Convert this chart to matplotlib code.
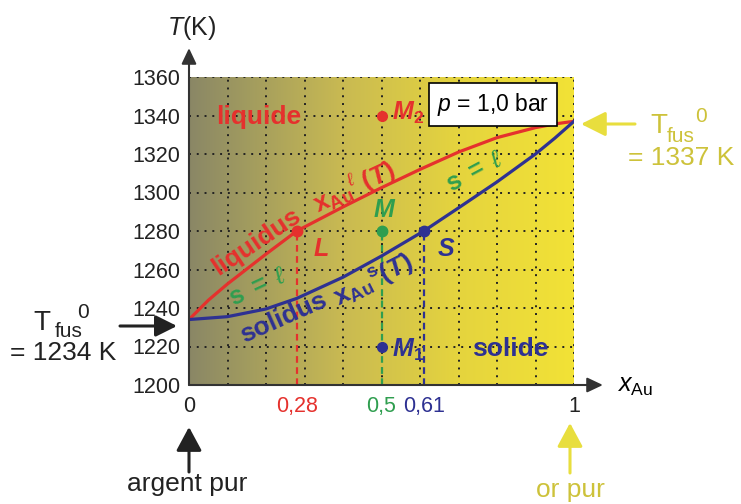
import numpy as np
import matplotlib
matplotlib.use('Agg')
import matplotlib.pyplot as plt
from matplotlib.colors import LinearSegmentedColormap

plt.rcParams['font.family'] = ['Liberation Sans', 'DejaVu Sans']
plt.rcParams['mathtext.fontset'] = 'custom'
plt.rcParams['mathtext.rm'] = 'Liberation Sans'
plt.rcParams['mathtext.it'] = 'Liberation Sans:italic'
plt.rcParams['mathtext.bf'] = 'Liberation Sans:bold'
plt.rcParams['mathtext.bfit'] = 'Liberation Sans:bold:italic'
plt.rcParams['mathtext.fallback'] = 'stixsans'

# ---------------- data ----------------
liq_x = [0.0, 0.05, 0.1, 0.2, 0.28, 0.4, 0.5, 0.6, 0.7, 0.8, 0.9, 0.95, 1.0]
liq_T = [1234, 1244, 1252.5, 1268, 1280, 1292.5, 1302.5, 1312, 1321, 1328.5, 1333.7, 1335.6, 1337]
sol_x = [0.0, 0.1, 0.2, 0.28, 0.4, 0.5, 0.61, 0.7, 0.8, 0.9, 0.95, 1.0]
sol_T = [1234, 1235.5, 1239.5, 1245, 1256, 1267, 1280, 1292, 1305.5, 1320, 1328.2, 1337]
T_fus_Ag = 1234
T_fus_Au = 1337
T_iso = 1280
x_L, x_M, x_S = 0.28, 0.5, 0.61
T_M1, T_M2 = 1220, 1340
y_ticks = [1200, 1220, 1240, 1260, 1280, 1300, 1320, 1340, 1360]
x_ticks = [0, 0.28, 0.5, 0.61, 1]
x_tick_labels = ['0', '0,28', '0,5', '0,61', '1']
grid_x = [0.1, 0.2, 0.3, 0.4, 0.5, 0.6, 0.7, 0.8, 0.9, 1.0]
grid_T = [1220, 1240, 1260, 1280, 1300, 1320, 1340, 1360]

RED = '#e5312d'
NAVY = '#2e3192'
GREEN = '#2f9e4f'
YEL_TXT = '#cdc23a'
YEL_ARR = '#e8de3e'
DARK = '#222222'

W, H = 741, 504
fig = plt.figure(figsize=(W / 100, H / 100), dpi=100)
ax = fig.add_axes([189 / W, 119 / H, 385 / W, 308 / H])
ax.set_xlim(0, 1)
ax.set_ylim(1200, 1360)

# background gradient
cmap = LinearSegmentedColormap.from_list(
    'bg', [(0, '#8a8766'), (0.15, '#a19b5f'), (0.4, '#c9ba52'),
           (0.7, '#e5d43e'), (1, '#f2e236')])
grad = np.linspace(0, 1, 256).reshape(1, -1)
ax.imshow(grad, extent=[0, 1, 1200, 1360], aspect='auto', cmap=cmap,
          zorder=0, interpolation='bilinear')

# dotted grid
ax.vlines(grid_x, 1200, 1360, colors=DARK, linestyles=(0, (1, 3)), lw=1.4, zorder=1)
ax.hlines(grid_T, 0, 1, colors=DARK, linestyles=(0, (1, 3)), lw=1.4, zorder=1)

for s in ax.spines.values():
    s.set_visible(False)
ax.set_yticks(y_ticks)
ax.set_yticklabels([str(t) for t in y_ticks], fontsize=15.5, color=DARK)
ax.set_xticks(x_ticks)
ax.set_xticklabels(x_tick_labels, fontsize=15.5)
for lab, c in zip(ax.get_xticklabels(), [DARK, RED, GREEN, NAVY, DARK]):
    lab.set_color(c)
ax.tick_params(axis='y', length=0, pad=6)
ax.tick_params(axis='x', length=0, pad=8)

# axes arrows
ax.annotate('', xy=(0, 1375), xytext=(0, 1200), xycoords='data', annotation_clip=False,
            arrowprops=dict(arrowstyle='-|>,head_length=0.95,head_width=0.45',
                            mutation_scale=10, lw=1.5, color='#333333',
                            shrinkA=0, shrinkB=0), zorder=5)
ax.annotate('', xy=(1.075, 1200), xytext=(0, 1200), xycoords='data', annotation_clip=False,
            arrowprops=dict(arrowstyle='-|>,head_length=0.95,head_width=0.45',
                            mutation_scale=10, lw=1.5, color='#333333',
                            shrinkA=0, shrinkB=0), zorder=5)

# curves
ax.plot(liq_x, liq_T, color=RED, lw=2.3, zorder=3, solid_capstyle='round', solid_joinstyle='round')
ax.plot(sol_x, sol_T, color=NAVY, lw=2.3, zorder=3, solid_capstyle='round', solid_joinstyle='round')

# dashed verticals
ax.plot([x_L, x_L], [1200, T_iso], color=RED, lw=1.6, ls=(0, (3, 2)), zorder=2)
ax.plot([x_M, x_M], [1200, T_iso], color=GREEN, lw=1.6, ls=(0, (3, 2)), zorder=2)
ax.plot([x_S, x_S], [1200, T_iso], color=NAVY, lw=1.6, ls=(0, (3, 2)), zorder=2)

# points
ax.plot([x_L], [T_iso], 'o', color=RED, ms=7.5, zorder=4)
ax.plot([x_M], [T_iso], 'o', color=GREEN, ms=7.5, zorder=4)
ax.plot([x_S], [T_iso], 'o', color=NAVY, ms=7.5, zorder=4)
ax.plot([x_M], [T_M1], 'o', color=NAVY, ms=7, zorder=4)
ax.plot([x_M], [T_M2], 'o', color=RED, ms=7, zorder=4)

# labels inside
ax.text(0.18, 1335.7, 'liquide', color=RED, fontsize=19, fontweight='bold',
        ha='center', va='baseline', zorder=6)
ax.text(0.835, 1215.1, 'solide', color=NAVY, fontsize=19, fontweight='bold',
        ha='center', va='baseline', zorder=6)
ax.text(0.527, 1337.8, r'$\mathbfit{M}_{\mathbf{2}}$', color=RED, fontsize=18,
        ha='left', va='baseline', zorder=6)
ax.text(0.527, 1214.7, r'$\mathbfit{M}_{\mathbf{1}}$', color=NAVY, fontsize=18,
        ha='left', va='baseline', zorder=6)
ax.text(0.509, 1287.5, r'$\mathbfit{M}$', color=GREEN, fontsize=18,
        ha='center', va='baseline', zorder=6)
ax.text(0.322, 1267.0, r'$\mathbfit{L}$', color=RED, fontsize=18,
        ha='left', va='baseline', zorder=6)
ax.text(0.645, 1267.0, r'$\mathbfit{S}$', color=NAVY, fontsize=18,
        ha='left', va='baseline', zorder=6)

ax.text(0.79, 1345.6, r'$p$ = 1,0 bar', fontsize=16.5, color='black',
        ha='center', va='center', zorder=7,
        bbox=dict(boxstyle='square,pad=0.35', fc='white', ec='black', lw=1.2))

# curve labels
ax.text(0.176, 1274.5, 'liquidus', color=RED, fontsize=19, fontweight='bold',
        rotation=34, rotation_mode='anchor', ha='center', va='center', zorder=6)
ax.text(0.428, 1302.6, r'$\mathbf{x}_{\mathbf{Au}}{}^{\ell}\;\mathbf{(}\mathbfit{T}\mathbf{)}$',
        color=RED, fontsize=19, rotation=25, rotation_mode='anchor',
        ha='center', va='center', zorder=6)
ax.text(0.245, 1234.8, 'solidus', color=NAVY, fontsize=19, fontweight='bold',
        rotation=24, rotation_mode='anchor', ha='center', va='center', zorder=6)
ax.text(0.48, 1254, r'$\mathbf{x}_{\mathbf{Au}}{}^{\mathbf{s}}\mathbf{(}\mathbfit{T}\mathbf{)}$',
        color=NAVY, fontsize=19, rotation=27, rotation_mode='anchor',
        ha='center', va='center', zorder=6)
ax.text(0.179, 1251, r'$\mathbf{s\ =}\ \ell$', color=GREEN, fontsize=18,
        rotation=25, rotation_mode='anchor', ha='center', va='center', zorder=6)
ax.text(0.743, 1310.8, r'$\mathbf{s\ =}\ \ell$', color=GREEN, fontsize=18,
        rotation=28, rotation_mode='anchor', ha='center', va='center', zorder=6)

# axis titles
def fx(px):
    return px / W

def fy(py):
    return 1 - py / H

fig.text(fx(192), fy(35), r'$T$(K)', fontsize=18, color=DARK, ha='center', va='baseline')
fig.text(fx(617), fy(392), r'$x_{\mathrm{Au}}$', fontsize=18, color='black', ha='left', va='baseline')

# outside annotations: left (silver)
fig.text(fx(33), fy(330), 'T', fontsize=20, color=DARK, ha='left', va='baseline')
fig.text(fx(55), fy(337), 'fus', fontsize=15, color=DARK, ha='left', va='baseline')
fig.text(fx(77), fy(318), '0', fontsize=15, color=DARK, ha='left', va='baseline')
fig.text(fx(10), fy(360), '= ' + str(T_fus_Ag) + ' K', fontsize=19, color=DARK, ha='left', va='baseline')
ax.annotate('', xy=(fx(177), fy(326)), xytext=(fx(120), fy(326)), xycoords='figure fraction',
            annotation_clip=False,
            arrowprops=dict(arrowstyle='-|>,head_length=1.3,head_width=0.65',
                            mutation_scale=10, lw=2.2, color=DARK, shrinkA=0, shrinkB=0))

# outside annotations: right (gold)
fig.text(fx(650), fy(133), 'T', fontsize=20, color=YEL_TXT, ha='left', va='baseline')
fig.text(fx(667), fy(142), 'fus', fontsize=15, color=YEL_TXT, ha='left', va='baseline')
fig.text(fx(695), fy(122), '0', fontsize=15, color=YEL_TXT, ha='left', va='baseline')
fig.text(fx(628), fy(165), '= ' + str(T_fus_Au) + ' K', fontsize=19, color=YEL_TXT, ha='left', va='baseline')
ax.annotate('', xy=(fx(581), fy(124)), xytext=(fx(635), fy(124)), xycoords='figure fraction',
            annotation_clip=False,
            arrowprops=dict(arrowstyle='-|>,head_length=1.5,head_width=0.75',
                            mutation_scale=10, lw=2.2, color=YEL_ARR, shrinkA=0, shrinkB=0))

# bottom arrows
ax.annotate('', xy=(fx(189), fy(427)), xytext=(fx(189), fy(472)), xycoords='figure fraction',
            annotation_clip=False,
            arrowprops=dict(arrowstyle='-|>,head_length=1.45,head_width=0.78',
                            mutation_scale=10, lw=2.2, color=DARK, shrinkA=0, shrinkB=0))
fig.text(fx(187), fy(491), 'argent pur', fontsize=19, color=DARK, ha='center', va='baseline')
ax.annotate('', xy=(fx(570), fy(423)), xytext=(fx(570), fy(473)), xycoords='figure fraction',
            annotation_clip=False,
            arrowprops=dict(arrowstyle='-|>,head_length=1.45,head_width=0.78',
                            mutation_scale=10, lw=2.2, color=YEL_ARR, shrinkA=0, shrinkB=0))
fig.text(fx(570), fy(497), 'or pur', fontsize=19, color=YEL_TXT, ha='center', va='baseline')

fig.savefig('out.png', dpi=100)
